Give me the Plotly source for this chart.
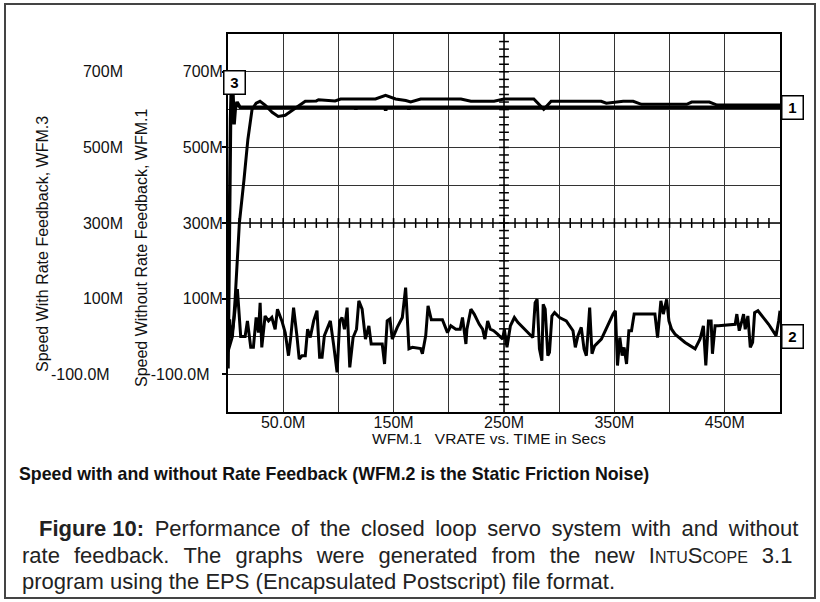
import plotly.graph_objects as go

# ---------------- data (time in ms "M", speed in "M" units) ----------------
wfm3_time = [0, 0.9, 2.3, 3.2, 4.5, 5.5, 6.5, 8.2, 10.9, 115, 115.8, 116.5, 142.2, 142.8, 143.4,
             163.2, 163.8, 164.4, 500]
wfm3_value = [-85, 229, 574, 675, 641, 561, 600, 620, 606, 606, 601, 606, 606, 597, 606,
              606, 600, 606, 606]

wfm1_time = [0, 4, 6.4, 10.3, 14.5, 18, 21.8, 25.5, 29, 33.6, 40, 45.5, 51.8, 58, 65.5, 70,
             80, 82, 97, 102, 133.6, 142.7, 151.8, 161, 165.5, 174.5, 211, 220, 241, 250,
             277, 286, 292.7, 338, 342.7, 358, 367, 374.5, 415.5, 420, 436, 443, 500]
wfm1_value = [-40, 0, 96, 300, 415, 521, 601, 617, 622, 612, 593, 582, 585, 598, 614, 622,
              623, 626, 623, 628, 628, 638, 628, 624, 620, 628, 628, 622, 622, 628,
              628, 601, 622, 622, 617, 622, 622, 614, 614, 620, 620, 612, 612]

noise_time = [0, 1.5, 3, 4.8, 8.5, 11.5, 15.5, 17.6, 20.6, 23.0, 25.5, 27.6, 29.1, 30.6, 33.6,
              36.7, 39.7, 42.7, 44.8, 48.8, 51.8, 54.8, 57.0, 59.4, 62.4, 64.5, 67.0, 70.0,
              72.1, 74.5, 77.6, 80.6, 83.0, 85.2, 87.3, 89.7, 92.7, 95.8, 98.8, 101.2, 103.3,
              105.5, 107.9, 110.3, 113.3, 116.4, 118.5, 121.5, 124.5, 127.6, 129.7, 135.2,
              139.7, 141.8, 144.2, 146.7, 148.8, 153.3, 157.9, 160.9, 163.9, 167.0, 171.5,
              174.5, 176.1, 179.1, 181.2, 184.2, 194.2, 198.8, 201.8, 206.4, 210.3, 212.4,
              215.5, 216.4, 220.0, 223.0, 227.6, 230.6, 232.7, 235.2, 237.6, 240.6, 244.2,
              248.8, 250.3, 252.7, 255.8, 259.4, 262.5, 276.1, 278.2, 280.0, 282.1, 284.3,
              285.5, 287.3, 289.7, 291.2, 293.4, 295.8, 300.3, 306.4, 312.5, 314.6, 317.0,
              320.0, 322.5, 324.6, 326.1, 327.6, 329.7, 332.1, 338.2, 344.3, 348.8, 350.9,
              352.8, 354.9, 357.0, 358.8, 361.0, 363.1, 365.5, 367.9, 386.7, 389.1, 392.1,
              394.3, 397.3, 399.4, 401.8, 404.9, 414.0, 423.1, 427.6, 430.6, 432.8, 435.2,
              437.6, 438.8, 441.2, 444.3, 459.4, 460.9, 463.1, 465.5, 467.0, 468.5, 470.9,
              473.1, 475.2, 477.0, 480.0, 489.7, 496.4, 498.8, 500]
noise_value = [10, 45, -5, 28, 125, 0, 0, 41, -29, -29, 50, 10, 89, -29, 54,
               41, 50, 19, 72, 41, 10, -51, 2, 76, 2, -60, -51, -51,
               19, -3, 41, 68, -55, -55, 2, 19, 41, -25, -95, 41, 50,
               19, 76, -82, -3, 19, 94, 72, -7, 28, -20, -20,
               -20, -73, 41, 46, -7, 24, 50, 129, -33, -29, -32,
               -32, -46, 2, 81, 44, 44, 10, 28, 19, 19, 50,
               -20, 19, 72, 59, 32, 19, -7, 41, 19, 15, 6,
               -7, 19, -29, 28, 50, 37, -3, 89, 98, -33, -64,
               85, 72, -51, -42, 54, 63, 50, 41, 15, -29, 2,
               24, -33, -51, 10, 76, -46, -25, -7, 32, 59, 68,
               -77, -3, -51, -29, -73, 15, 15, 59, 59, -3, 94,
               59, 98, 41, 19, 6, -16, -33, -7, 28, -77, 41,
               41, -46, 28, 28, 32, 59, 15, 41, 59, 19, 54,
               -29, -16, 63, 68, 32, 2, 41, 68]

x_tick_vals = [50, 150, 250, 350, 450]
x_tick_text = ["50.0M", "150M", "250M", "350M", "450M"]
y_tick_vals = [700, 500, 300, 100, -100]
y_tick_text = ["700M", "500M", "300M", "100M", "-100.0M\u00a0\u00a0\u00a0"]

caption_line1_words = ["<b>Figure 10:</b>", "Performance", "of", "the", "closed", "loop", "servo",
                       "system", "with", "and", "without"]
caption_line2_words = ["rate", "feedback.", "The", "graphs", "were", "generated", "from", "the",
                       "new", "I<span style='font-size:16px'>NTU</span>S<span style='font-size:16px'>COPE</span>",
                       "3.1"]
caption_line3 = "program using the EPS (Encapsulated Postscript) file format."

# ---------------- geometry helpers ----------------
W, H = 820, 602
def px(x):
    return x / W
def py(y):
    return 1 - y / H

fig = go.Figure()

line_style = dict(color="#000000", width=3)
fig.add_trace(go.Scatter(x=noise_time, y=noise_value, mode="lines", line=line_style,
                         showlegend=False, hoverinfo="skip"))
fig.add_trace(go.Scatter(x=wfm1_time, y=wfm1_value, mode="lines", line=line_style,
                         showlegend=False, hoverinfo="skip"))
fig.add_trace(go.Scatter(x=wfm3_time, y=wfm3_value, mode="lines",
                         line=dict(color="#000000", width=3.5),
                         showlegend=False, hoverinfo="skip"))

# crosshair minor ticks (axis decoration)
hx = [t for t in range(10, 500, 10)]
fig.add_trace(go.Scatter(x=hx, y=[300] * len(hx), mode="markers",
                         marker=dict(symbol="line-ns", size=7,
                                     line=dict(color="#000000", width=1.5)),
                         showlegend=False, hoverinfo="skip"))
vy = [v for v in range(-180, 800, 20)]
fig.add_trace(go.Scatter(x=[250] * len(vy), y=vy, mode="markers",
                         marker=dict(symbol="line-ew", size=7,
                                     line=dict(color="#000000", width=1.5)),
                         showlegend=False, hoverinfo="skip"))
# dummy trace for second (left) y label column
fig.add_trace(go.Scatter(x=[None], y=[None], yaxis="y2", showlegend=False, hoverinfo="skip"))

FONT = "Liberation Sans, Arial, sans-serif"
tick_font = dict(family=FONT, size=16, color="#111111")

fig.update_layout(
    width=W, height=H,
    margin=dict(l=0, r=0, t=0, b=0),
    paper_bgcolor="white", plot_bgcolor="white",
    template="none",
    xaxis=dict(domain=[px(228), px(780)], range=[0, 500],
               tickvals=x_tick_vals, ticktext=x_tick_text, ticks="",
               ticklabelstandoff=-5,
               tickfont=tick_font, showgrid=False, zeroline=False,
               showline=True, mirror=True, linecolor="#000000", linewidth=2,
               minor=dict(tick0=0, dtick=50, showgrid=True, gridcolor="#333333",
                          gridwidth=1, ticks=""),
               automargin=False, fixedrange=True),
    yaxis=dict(domain=[py(412), py(34)], range=[-200, 800],
               tickvals=y_tick_vals, ticktext=y_tick_text, ticks="outside",
               ticklen=4, tickwidth=2, tickcolor="#000000", ticklabelstandoff=-4,
               tickfont=tick_font, showgrid=False, zeroline=False,
               showline=True, mirror=True, linecolor="#000000", linewidth=2,
               minor=dict(tick0=-200, dtick=100, showgrid=True, gridcolor="#333333",
                          gridwidth=1, ticks=""),
               automargin=False, fixedrange=True),
    yaxis2=dict(overlaying="y", anchor="free", position=px(123), side="left",
                range=[-200, 800], tickvals=y_tick_vals, ticktext=y_tick_text,
                ticks="", tickfont=tick_font, showgrid=False, zeroline=False,
                showline=False, automargin=False, fixedrange=True),
)

# crosshair lines
fig.add_shape(type="line", xref="x", yref="y", x0=0, x1=500, y0=300, y1=300,
              line=dict(color="#000000", width=1.5), layer="below")
fig.add_shape(type="line", xref="x", yref="y", x0=250, x1=250, y0=-200, y1=800,
              line=dict(color="#000000", width=1.5), layer="below")

# outer frame
fig.add_shape(type="rect", xref="paper", yref="paper", x0=px(5), x1=px(815),
              y0=py(598), y1=py(4), line=dict(color="#444444", width=2))

def note(x, y, text, font, xanchor="center", yanchor="middle", **kw):
    fig.add_annotation(xref="paper", yref="paper", x=px(x), y=py(y), text=text,
                       xanchor=xanchor, yanchor=yanchor, showarrow=False, font=font, **kw)

title_font = dict(family=FONT, size=16, color="#111111")
note(42, 244, "Speed With Rate Feedback, WFM.3", title_font, textangle=-90)
note(141, 248, "Speed Without Rate Feedback, WFM.1", title_font, textangle=-90)
note(489, 438, "WFM.1\u00a0\u00a0\u00a0VRATE vs. TIME in Secs", dict(family=FONT, size=15.5, color="#111111"))
note(17, 474, "<b>Speed with and without Rate Feedback (WFM.2 is the Static Friction Noise)</b>",
     dict(family=FONT, size=17.75, color="#111111"), xanchor="left")

# waveform labels
box = dict(showarrow=False, bgcolor="white", bordercolor="#000000", borderwidth=1.5,
           borderpad=2, width=16, height=18, xanchor="center", yanchor="middle",
           font=dict(family=FONT, size=15, color="#000000"))
fig.add_annotation(xref="x", yref="y", x=5.5, y=673, text="<b>3</b>", **box)
fig.add_annotation(xref="paper", yref="y", x=px(792.5), y=605, text="<b>1</b>", **box)
fig.add_annotation(xref="paper", yref="y", x=px(792.5), y=0, text="<b>2</b>", **box)

# caption (first two lines justified)
cap_font = dict(family=FONT, size=22, color="#222222")
note(37, 528, " \u2009".join(caption_line1_words), cap_font, xanchor="left")
note(20, 555, " \u00a0\u200a".join(caption_line2_words), cap_font, xanchor="left")
note(20, 581, caption_line3, cap_font, xanchor="left")

fig.write_html("out.html")
